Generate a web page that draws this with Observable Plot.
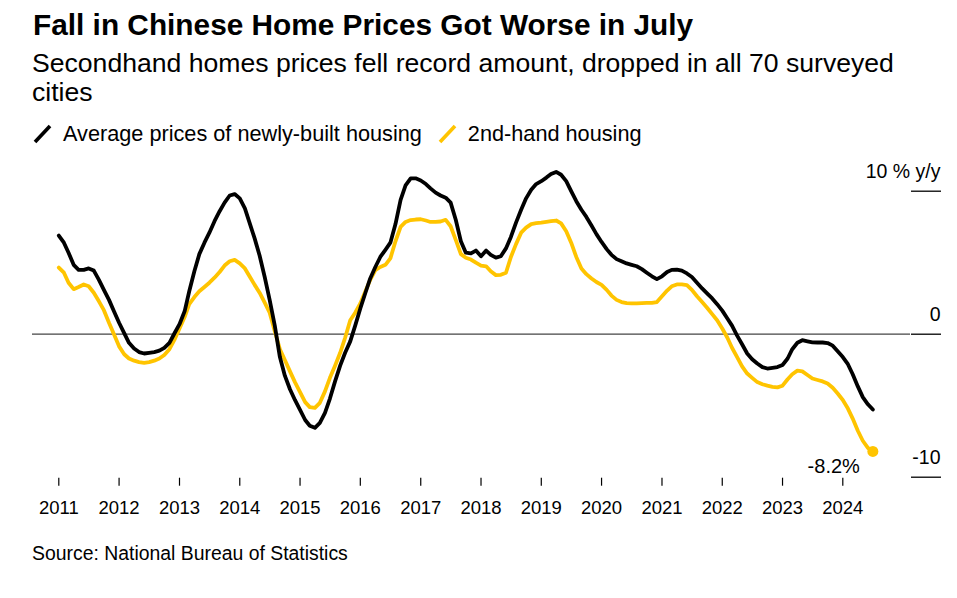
<!DOCTYPE html>
<html>
<head>
<meta charset="utf-8">
<script src="https://cdn.jsdelivr.net/npm/d3@7"></script>
<script src="https://cdn.jsdelivr.net/npm/@observablehq/plot@0.6"></script>
<style>
  html, body { margin: 0; padding: 0; background: #fff; }
  body { font-family: "Liberation Sans", Arial, sans-serif; color: #000; }
  #wrap { position: relative; width: 957px; height: 598px; overflow: hidden; }
  #title { position: absolute; left: 33px; top: 10px; font-size: 29.8px; line-height: 1; font-weight: bold; white-space: nowrap; }
  #subtitle { position: absolute; left: 32px; top: 49px; font-size: 26.6px; line-height: 29px; white-space: nowrap; }
  #legend { position: absolute; left: 33px; top: 123px; font-size: 21.7px; line-height: 1; white-space: nowrap; display: flex; align-items: center; }
  #legend svg { display: block; }
  #chart { position: absolute; left: 0; top: 150px; }
  #source { position: absolute; left: 32px; top: 544.3px; font-size: 19.4px; line-height: 1; white-space: nowrap; color: #000; }
</style>
</head>
<body>
<div id="wrap">
  <div id="title"></div>
  <div id="subtitle"></div>
  <div id="legend"></div>
  <div id="chart"></div>
  <div id="source"></div>
</div>
<script>
// ---- Text ----
const titleText = "Fall in Chinese Home Prices Got Worse in July";
const subtitleLines = ["Secondhand homes prices fell record amount, dropped in all 70 surveyed", "cities"];
const sourceText = "Source: National Bureau of Statistics";
const seriesNames = ["Average prices of newly-built housing", "2nd-hand housing"];
const seriesColors = ["#000000", "#FFC400"];

// ---- Axis ticks ----
const yTicks = [-10, 0, 10];
const yTickLabels = ["-10", "0", "10 % y/y"];
const startYear = 2011;
const startMonth = 0; // January
const endLabel = "-8.2%";

// ---- Data: monthly y/y % change, Jan 2011 .. Jul 2024 ----
const newBuilt = [
  6.9, 6.4, 5.7, 4.85, 4.5, 4.5, 4.6, 4.45, 3.8, 3.1, 2.4, 1.6,          // 2011
  0.8, 0.07, -0.6, -1.0, -1.25, -1.35, -1.3, -1.25, -1.15, -0.95, -0.6, 0.05, // 2012
  0.7, 1.6, 3.0, 4.4, 5.6, 6.4, 7.1, 7.9, 8.6, 9.2, 9.7, 9.8,             // 2013
  9.5, 8.8, 7.8, 6.7, 5.5, 4.0, 2.4, 0.6, -1.6, -2.9, -3.85, -4.6,        // 2014
  -5.3, -6.0, -6.4, -6.55, -6.2, -5.5, -4.5, -3.3, -2.2, -1.3, -0.5, 0.6, // 2015
  1.8, 2.9, 3.9, 4.7, 5.4, 5.9, 6.4, 7.7, 9.4, 10.4, 10.9, 10.9,          // 2016
  10.75, 10.5, 10.2, 9.9, 9.7, 9.55, 9.2, 8.0, 6.5, 5.7, 5.65, 5.85,      // 2017
  5.45, 5.85, 5.55, 5.35, 5.45, 6.0, 6.8, 7.8, 8.7, 9.5, 10.1, 10.5,      // 2018
  10.7, 10.95, 11.2, 11.35, 11.15, 10.7, 10.0, 9.3, 8.7, 8.2, 7.6, 7.0,   // 2019
  6.45, 5.95, 5.55, 5.25, 5.1, 4.95, 4.85, 4.75, 4.55, 4.3, 4.05, 3.85,   // 2020
  4.05, 4.35, 4.5, 4.52, 4.45, 4.25, 4.0, 3.6, 3.2, 2.85, 2.5, 2.1,       // 2021
  1.65, 1.1, 0.6, -0.1, -0.7, -1.35, -1.75, -2.05, -2.3, -2.4, -2.35, -2.3, // 2022
  -2.15, -1.7, -1.05, -0.6, -0.42, -0.5, -0.57, -0.58, -0.58, -0.62, -0.8, -1.2, // 2023
  -1.6, -2.1, -2.8, -3.65, -4.4, -4.9, -5.27                              // 2024
];
const secondHand = [
  4.66, 4.3, 3.6, 3.15, 3.3, 3.48, 3.35, 2.9, 2.3, 1.68, 0.8, 0.0,        // 2011
  -0.85, -1.4, -1.7, -1.85, -1.95, -2.0, -1.95, -1.85, -1.7, -1.45, -1.05, -0.4, // 2012
  0.4, 1.2, 2.1, 2.6, 3.0, 3.3, 3.6, 3.95, 4.35, 4.8, 5.1, 5.2,           // 2013
  4.95, 4.6, 4.05, 3.45, 2.9, 2.2, 1.5, 0.2, -1.05, -1.8, -2.6, -3.35,    // 2014
  -4.05, -4.75, -5.1, -5.15, -4.8, -4.0, -3.05, -2.2, -1.3, -0.25, 0.98, 1.5, // 2015
  2.15, 3.0, 3.8, 4.48, 4.7, 4.85, 5.3, 6.5, 7.5, 7.85, 7.98, 8.02,       // 2016
  8.04, 7.95, 7.85, 7.85, 7.88, 8.0, 7.55, 6.6, 5.6, 5.35, 5.22, 5.0,     // 2017
  4.8, 4.75, 4.4, 4.13, 4.15, 4.3, 5.4, 6.3, 7.1, 7.45, 7.7, 7.76,        // 2018
  7.8, 7.85, 7.9, 7.95, 7.75, 7.2, 6.4, 5.4, 4.6, 4.2, 3.9, 3.65,         // 2019
  3.45, 3.1, 2.7, 2.4, 2.25, 2.17, 2.15, 2.15, 2.17, 2.19, 2.19, 2.25,    // 2020
  2.65, 3.05, 3.35, 3.48, 3.48, 3.43, 3.1, 2.65, 2.25, 1.85, 1.4, 0.98,   // 2021
  0.4, -0.25, -0.95, -1.6, -2.25, -2.75, -3.05, -3.35, -3.5, -3.6, -3.68, -3.72, // 2022
  -3.6, -3.15, -2.8, -2.55, -2.6, -2.85, -3.1, -3.2, -3.3, -3.45, -3.75, -4.15, // 2023
  -4.6, -5.2, -5.9, -6.75, -7.45, -7.95, -8.2                             // 2024
];

// ---- Build tables ----
const start = new Date(Date.UTC(startYear, startMonth, 1));
const dates = newBuilt.map((_, i) => d3.utcMonth.offset(start, i));
const rowsNew = newBuilt.map((v, i) => ({date: dates[i], value: v}));
const rowsSecond = secondHand.map((v, i) => ({date: dates[i], value: v}));
const lastSecond = rowsSecond[rowsSecond.length - 1];
const yLabelRows = yTicks.map((t, i) => ({value: t, label: yTickLabels[i]}));

// ---- Header ----
document.getElementById("title").textContent = titleText;
document.getElementById("subtitle").innerHTML = subtitleLines.join("<br>");
document.getElementById("source").textContent = sourceText;
const legend = d3.select("#legend");
seriesNames.forEach((name, i) => {
  const sw = legend.append("svg").attr("width", 20).attr("height", 20)
    .style("margin-left", i === 0 ? "0px" : "16px").style("margin-right", "10px");
  sw.append("line").attr("x1", 2).attr("y1", 18).attr("x2", 17).attr("y2", 2)
    .attr("stroke", seriesColors[i]).attr("stroke-width", 3.6);
  legend.append("span").text(name);
});

// ---- Chart ----
const W = 957, H = 390;
const chart = Plot.plot({
  width: W,
  height: H,
  marginLeft: 32,
  marginRight: 47,
  marginTop: 0,
  marginBottom: 62.3,
  style: {fontFamily: "'Liberation Sans', Arial, sans-serif", color: "#000", background: "transparent", overflow: "visible"},
  x: {type: "utc", domain: [dates[0], dates[dates.length - 1]], range: [58.3, 58.3 + 60.3 * (dates.length - 1) / 12]},
  y: {domain: [-10, 10], range: [326.7, 40.7]},
  marks: [
    Plot.ruleY([0], {stroke: "#444", strokeWidth: 1.2}),
    // right-hand tick marks only
    Plot.axisY({
      anchor: "right", ticks: yTicks, tickSize: 30, tickPadding: 0,
      tickFormat: () => "", label: null, strokeWidth: 1.3
    }),
    // right-hand labels sitting above their ticks
    Plot.text(yLabelRows, {
      y: "value", text: "label", frameAnchor: "right", textAnchor: "end",
      dx: 30, dy: -19.5, fontSize: 19.5
    }),
    Plot.axisX({
      ticks: d3.utcYear.every(1), tickFormat: "%Y", tickSize: 8, tickPadding: 14.4,
      fontSize: 18.5, label: null, strokeWidth: 1.2
    }),
    Plot.line(rowsSecond, {x: "date", y: "value", stroke: seriesColors[1], strokeWidth: 3.8, strokeLinejoin: "round", strokeLinecap: "round"}),
    Plot.line(rowsNew, {x: "date", y: "value", stroke: seriesColors[0], strokeWidth: 3.8, strokeLinejoin: "round", strokeLinecap: "round"}),
    Plot.dot([lastSecond], {x: "date", y: "value", r: 5.5, fill: seriesColors[1], stroke: "none"}),
    Plot.text([lastSecond], {x: "date", y: "value", text: () => endLabel, textAnchor: "end", dx: -13, dy: 15, fontSize: 20})
  ]
});
document.getElementById("chart").appendChild(chart);
</script>
</body>
</html>
